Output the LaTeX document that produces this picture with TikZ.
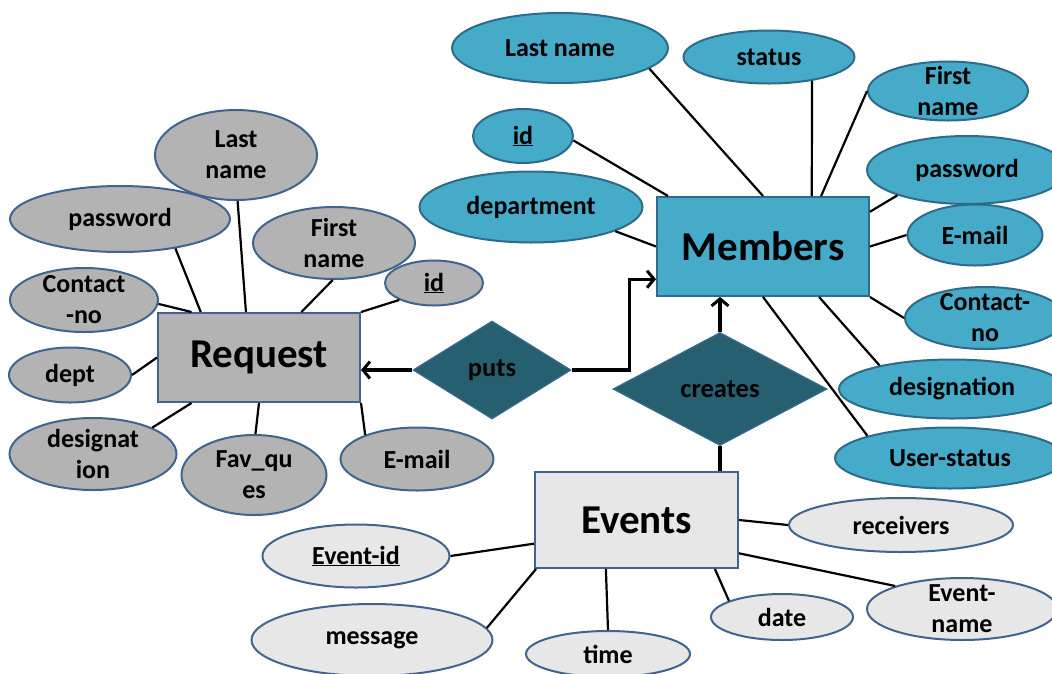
\documentclass[tikz,border=0pt]{standalone}
\usepackage{fontspec}
\setmainfont{Carlito}
\usetikzlibrary{shapes.geometric,arrows.meta}

\definecolor{greyfill}{HTML}{B3B3B3}
\definecolor{greyline}{HTML}{41648E}
\definecolor{bluefill}{HTML}{46ABC9}
\definecolor{blueline}{HTML}{2E6A89}
\definecolor{lightfill}{HTML}{E7E7E7}
\definecolor{relfill}{HTML}{265F6F}
\definecolor{relline}{HTML}{3A6A90}

\tikzset{
	attr/.style={ellipse, line width=2pt, inner xsep=-4pt, inner ysep=-8pt, align=center, font=\fontsize{26}{31}\selectfont\bfseries},
	greyattr/.style={attr, draw=greyline, fill=greyfill},
	blueattr/.style={attr, draw=blueline, fill=bluefill},
	lightattr/.style={attr, draw=greyline, fill=lightfill},
	entity/.style={rectangle, line width=2pt, inner sep=0pt, font=\fontsize{41}{44}\selectfont\bfseries},
	relship/.style={diamond, draw=relline, fill=relfill, line width=1.2pt, inner sep=0pt, font=\fontsize{26.5}{30}\selectfont\bfseries},
	link/.style={line width=2.2pt},
	rel/.style={line width=3.2pt},
	relarrow/.style={rel, -{Straight Barb[length=7pt,width=17pt,line width=3pt]}}
}

\begin{document}
\begin{tikzpicture}[x=1pt,y=-1pt]
			%%%%% START %%%%%
			\useasboundingbox (0,0) rectangle (1052,673);
			\clip (0,0) rectangle (1052,673);
			
			% Request and its attributes
			\node[entity, draw=greyline, fill=greyfill, minimum width=202, minimum height=89] (req) at (259,357.5) {Request};
			\node[greyattr, minimum width=162, minimum height=90] (rLast) at (236,155) {Last\\name};
			\node[greyattr, minimum width=220, minimum height=66] (rPass) at (120,219) {password};
			\node[greyattr, minimum width=162, minimum height=72] (rFirst) at (334,243) {First\\name};
			\node[greyattr, minimum width=98, minimum height=45] (rId) at (434,283) {\underline{id}};
			\node[greyattr, minimum width=148, minimum height=64] (rCont) at (84,300) {Contact\\-no};
			\node[greyattr, minimum width=122, minimum height=55] (rDept) at (70,375) {dept};
			\node[greyattr, minimum width=167, minimum height=72] (rDesig) at (93,454) {designat\\ion};
			\node[greyattr, minimum width=145, minimum height=80] (rFav) at (254,475) {Fav\_qu\\es};
			\node[greyattr, minimum width=153, minimum height=63] (rMail) at (417,459) {E-mail};
			
			\draw[link] (rPass.-28) -- (req.142);
			\draw[link] (rLast.-88) -- (req.106);
			\draw[link] (rFirst.-92) -- (req.47);
			\draw[link] (rId.206) -- (req.north east);
			\draw[link] (rCont.-3) -- (req.146);
			\draw[link] (rDept.east) -- (req.west);
			\draw[link] (rDesig.24) -- (req.-146);
			\draw[link] (rFav.88) -- (req.south);
			\draw[link] (rMail.155) -- (req.south east);
			
			% Members and its attributes
			\node[entity, draw=blueline, fill=bluefill, minimum width=212, minimum height=99] (mem) at (763,246.5) {Members};
			\node[blueattr, minimum width=216, minimum height=70] (mLast) at (560,48) {Last name};
			\node[blueattr, minimum width=171, minimum height=53] (mStatus) at (769,57) {status};
			\node[blueattr, minimum width=160, minimum height=59] (mFirst) at (948,91) {First\\name};
			\node[blueattr, minimum width=100, minimum height=54] (mId) at (523,136) {\underline{id}};
			\node[blueattr, minimum width=223, minimum height=71] (mDept) at (531,207) {department};
			\node[blueattr, minimum width=200, minimum height=68] (mPass) at (967,170) {password};
			\node[blueattr, minimum width=135, minimum height=61] (mMail) at (975,235) {E-mail};
			\node[blueattr, minimum width=160, minimum height=62] (mCont) at (985,318) {Contact-\\no};
			\node[blueattr, minimum width=226, minimum height=59] (mDesig) at (952,389) {designation};
			\node[blueattr, minimum width=230, minimum height=61] (mUser) at (950,458) {User-status};
			
			\draw[link] (mLast.-13) -- (mem.north);
			\draw[link] (mStatus.-29) -- (mem.46);
			\draw[link] (mFirst.west) -- (mem.41);
			\draw[link] (mId.-5) -- (mem.152);
			\draw[link] (mDept.-16) -- (mem.west);
			\draw[link] (mPass.200) -- (mem.18);
			\draw[link] (mMail.west) -- (mem.east);
			\draw[link] (mCont.west) -- (mem.south east);
			\draw[link] (mDesig.162) -- (mem.-42);
			\draw[link] (mUser.165) -- (mem.south);
			
			% Events and its attributes
			\node[entity, draw=greyline, fill=lightfill, minimum width=203, minimum height=96] (evt) at (636.5,520) {Events};
			\node[lightattr, minimum width=187, minimum height=63] (eId) at (356,556) {\underline{Event-id}};
			\node[lightattr, minimum width=241, minimum height=72] (eMsg) at (372,640) {message};
			\node[lightattr, minimum width=164, minimum height=46] (eTime) at (608,654) {time};
			\node[lightattr, minimum width=142, minimum height=46] (eDate) at (782,617) {date};
			\node[lightattr, minimum width=190, minimum height=62] (eName) at (962,609) {Event-\\name};
			\node[lightattr, minimum width=224, minimum height=54] (eRecv) at (901,525) {receivers};
			
			\draw[link] (eId.east) -- (evt.193);
			\draw[link] (eMsg.6) -- (evt.-154);
			\draw[link] (eTime.north) -- (evt.-122);
			\draw[link] (eDate.163) -- (evt.-32);
			\draw[link] (eName.161) -- (evt.-18);
			\draw[link] (eRecv.west) -- (evt.east);
			
			% relationships
			\node[relship, minimum width=158, minimum height=98] (puts) at (492,370) {puts};
			\node[relship, minimum width=214, minimum height=113] (creates) at (720,389) {creates};
			
			\draw[relarrow] (puts.west) -- (puts.west -| req.east);
			\draw[relarrow] (puts.east) -- ++(58,0) |- (mem.197);
			\draw[relarrow] (creates.north) -- (creates.north |- mem.south);
			\draw[rel] (creates.south) -- (creates.south |- evt.north);
			
			%%%%% END %%%%%
\end{tikzpicture}
\end{document}
